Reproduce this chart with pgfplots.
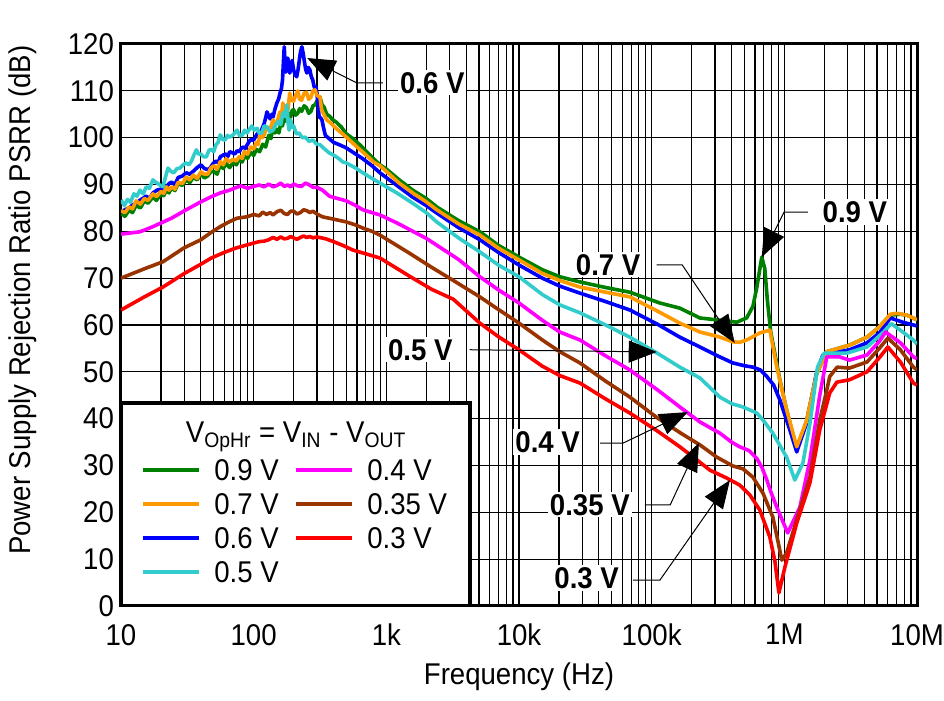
\documentclass[border=0pt]{standalone}
\usepackage{fontspec}
\setmainfont{Liberation Sans}[FakeStretch=0.92]
\usepackage{pgfplots}
\pgfplotsset{compat=1.18}
\usetikzlibrary{arrows.meta}
\definecolor{colG}{RGB}{0,128,0}
\definecolor{colO}{RGB}{255,153,0}
\definecolor{colB}{RGB}{0,0,255}
\definecolor{colC}{RGB}{51,204,204}
\definecolor{colM}{RGB}{255,0,255}
\definecolor{colBr}{RGB}{153,51,0}
\definecolor{colR}{RGB}{255,0,0}
\newcommand{\fs}{\fontsize{15}{18}\selectfont}
\begin{document}
\begin{tikzpicture}
\useasboundingbox (-60.5pt,-47.5pt) rectangle (411.5pt,303pt);
\begin{axis}[at={(0,0)}, anchor=south west, scale only axis,
  width=398pt, height=281pt,
  xmode=log, xmin=10, xmax=1e7, ymin=0, ymax=120,
  ytick={0,10,...,120},
  xtick={10,100,1000,10000,100000,1000000,10000000},
  xticklabels={10,100,1k,10k,100k,1M,10M},
  grid=both,
  grid style={black, line width=0.6pt},
  major grid style={black, line width=0.6pt},
  minor grid style={black, line width=0.6pt},
  major tick length=0pt, minor tick length=0pt,
  axis line style={line width=1.5pt},
  /pgf/number format/assume math mode=true,
  tick label style={font=\fs},
  xticklabel style={yshift=-5.5pt},
  label style={font=\fs},
  xlabel={Frequency (Hz)},
  ylabel={Power Supply Rejection Ratio PSRR (dB)},
  xlabel style={at={(rel axis cs:0.5,-0.125)}, anchor=center},
  ylabel style={at={(rel axis cs:-0.124,0.544)}, anchor=center},
  every axis plot/.append style={line width=1.8pt, line join=round},
]
% 0.9 V
\addplot[colG] coordinates {
(10,83.9)(10.7,83.2)(11.5,84.5)(12.2,84)(13,85.5)(14,85)(15,86.5)(16,86)(17.4,87.3)(18.5,86.6)(20,88)(21,87.6)(22,88.8)(23,88.2)(24,89.3)(25.5,88.7)(27,90.2)(29,89.8)(31,91)(33,90.4)(35,91.5)(37.5,91)(40,92.3)(42.5,91.4)(45,91.8)(47.5,92.7)(50,92.8)(53,92.2)(56,94.2)(59,93.4)(62,94.5)(66,93.6)(70,94.8)(74,94.2)(78,95.4)(82,94.8)(85,96)(90,95.6)(95,96.9)(100,96.2)(105,97.5)(111,97)(117,98.6)(123,98)(130,100.5)(135,99.8)(140,102.3)(145,101)(150,101.8)(155,101)(160,103.1)(165,102.5)(170,104.5)(175,103.5)(180,105.5)(185,104.5)(190,104.4)(195,105.8)(200,106)(207,104.8)(215,105.2)(222,106.2)(230,105.6)(240,106.8)(250,106.4)(260,105.2)(270,105.6)(280,106.8)(290,107)(300,107.8)(316,108.7)(328,107)(340,106.5)(355,105)(373,104.6)(395,103.8)(420,103.3)(460,102.2)(500,100.8)(560,99.8)(630,98.5)(710,97)(800,95.5)(895,94.2)(1000,93.3)(1250,91)(1580,88.8)(2000,87)(2400,85.2)(3500,82.3)(5070,79.9)(7000,77)(10000,74.5)(15000,71.8)(20300,70.3)(28800,69.2)(45000,68)(68500,67)(115000,64.7)(163000,63.6)(231000,61.5)(309000,61.1)(438000,60.6)(520000,61.5)(580000,64)(621000,68.1)(676000,74.5)(713000,72)(745000,65.3)(790000,58.5)(925000,48.3)(1040000,41.9)(1240000,33.5)(1470000,39.5)(1750000,49.5)(2090000,54.3)(3100000,55.7)(4200000,57.4)(5200000,59.6)(6300000,62.1)(7500000,62.3)(8400000,62.1)(10000000,61.1)};
% 0.6 V
\addplot[colB] coordinates {
(10,84.1)(10.7,84.6)(11.5,85)(12.2,85.6)(13,86)(14,86.7)(15.5,87.5)(16.4,87)(17.4,88.2)(18.7,88.8)(20,89)(21,88.6)(22,89.5)(23,90.2)(24,90.5)(25.5,90)(27,91.5)(29,91.8)(31,92.5)(33,92.2)(35,92.8)(37.5,93.6)(40,94.2)(42.5,93.4)(45,93.2)(47,93.5)(49.5,94.5)(52,95)(54,94.6)(56,95.9)(59,96.3)(62,96.5)(64,96)(66,97)(69,96.8)(72,96.5)(75,97.2)(78,97)(81,97.8)(84,98)(86.5,97.7)(89,98.4)(94,99.5)(100,99.5)(106,100.8)(112,101)(116,102)(120,103)(123,104.2)(126,105.5)(130,104.6)(133,104)(137,105)(140,104.4)(145,106.2)(150,107.5)(154,108.2)(158,109.5)(162,110.5)(165,112.3)(167.5,116)(170,119.4)(172.5,116)(175,114)(178,115.5)(181,117)(184,115)(187,113.8)(191,114.8)(195,116.5)(200,114.5)(205,113.5)(211,113)(216,114.5)(222,117)(226,118.5)(231,119.4)(236,118)(242,116)(247,114.5)(252,113.8)(258,115)(265,114.5)(272,113)(279,112.3)(285,111)(290,110.5)(295,110.8)(300,109.5)(306,106.5)(312,104.4)(320,104.2)(327,103.8)(337,102)(347,100.5)(370,99.8)(400,99)(450,98.4)(500,97.8)(580,96.6)(665,95.5)(780,94)(895,92.5)(1200,89.8)(1580,87.3)(2000,85.5)(2400,83.9)(3500,80.8)(5070,78.2)(7000,75.5)(10000,72.8)(15000,70)(20300,68.3)(28800,66.8)(45000,65)(68500,63.2)(110000,60.2)(163000,57.4)(231000,55.3)(320000,53.3)(409000,51.9)(500000,51.3)(580000,51)(660000,50.4)(738000,49)(830000,47.2)(925000,44)(1100000,37.6)(1240000,32.9)(1470000,39)(1750000,49.8)(1950000,53.6)(3100000,54.7)(4200000,56.2)(5200000,58.3)(6300000,61.5)(7800000,60.6)(9400000,60)(10000000,59.8)};
% 0.7 V
\addplot[colO] coordinates {
(10,84.4)(10.7,84)(11.5,85.2)(12.2,84.8)(13,86.5)(14,85.8)(15,87)(16,86.6)(17.4,88)(18.5,87.4)(20,88.5)(21,88.1)(22,89.5)(23,88.8)(24,89.5)(25.5,89)(27,90.5)(29,90.2)(31,91.6)(33,91)(35,92)(37.5,91.3)(40,92.7)(42.5,92.2)(45,92.2)(47.5,93.5)(50,94)(53,93.3)(56,94.9)(59,94.2)(62,95.5)(66,94.8)(70,95.4)(74,95)(78,96)(82,95.6)(85,97)(90,96.5)(95,98)(100,97.6)(105,99)(108,98.5)(112,101)(116,100)(120,100.6)(126,102.2)(133,101.8)(140,103.8)(145,103)(150,103.2)(154,104.5)(158,105.5)(162,104.6)(166,107.4)(170,106)(175,106.8)(181,105.8)(187,109.5)(193,108)(200,107.8)(207,109)(215,110)(222,108.2)(230,108)(240,109.5)(250,109.7)(260,108.2)(270,108.6)(280,110)(290,110.2)(300,109)(316,108.7)(325,106)(335,105.2)(345,104.5)(355,103.8)(375,103.3)(400,102.5)(450,101.2)(500,100.1)(560,98.8)(630,97.5)(710,96.2)(800,94.8)(895,94)(1000,92.8)(1250,90.3)(1580,88.2)(2000,86.3)(2400,84.6)(3500,81.6)(5070,79.2)(7000,76.4)(10000,73.9)(15000,71)(20300,69.5)(28800,68.1)(45000,67)(68500,66)(110000,63)(163000,60.4)(231000,58.5)(320000,57.5)(409000,56.4)(460000,56.3)(521000,56.8)(653000,58.3)(778000,58.9)(877000,51)(1040000,41.9)(1240000,34)(1470000,39.5)(1750000,49.5)(2090000,54.3)(3100000,55.7)(4200000,57.4)(5200000,59.6)(6300000,62.3)(7050000,62.5)(8400000,62.1)(10000000,61.1)};
% 0.5 V
\addplot[colC] coordinates {
(10,86.7)(10.6,85.5)(11.2,86.8)(11.8,86.2)(12.5,88)(13.2,87.5)(13.9,88.8)(14.7,88)(15.5,89.5)(16.4,89.2)(17.4,91)(18.2,90.5)(19,90.2)(19.8,89.8)(20.7,89.5)(21.6,91.5)(22.6,93.5)(23.8,92.8)(25,92.5)(26.4,93.4)(27.8,93.5)(29.4,94.2)(31,94.6)(32.5,94.2)(34,95)(35.5,96.3)(37,97.4)(38.5,96.5)(40,96.5)(42,95.9)(44,95.9)(46,97.3)(48,97.5)(50,97)(52,98.5)(54,99)(56,100.6)(58.5,99.6)(61,99.5)(63.5,100.5)(66,100.1)(70,100.6)(75,101.6)(78.5,100.4)(82,100.5)(85.5,101.6)(89,101)(93,101.8)(97,102.5)(101,101.6)(106,102)(110,101)(115,101)(120,102.5)(126,102.3)(133,101.2)(140,101.6)(147,102.8)(155,103.5)(160,102.8)(166,105.3)(172,104.5)(178,107)(182,103)(185,101.6)(190,103.8)(195,102.2)(200,102.5)(210,100.8)(220,101)(232,100)(245,100.1)(262,99.2)(280,99.5)(298,98.6)(316,98.5)(345,97.5)(373,96.7)(405,96.2)(440,95.5)(470,94.8)(500,94.6)(580,93.6)(665,92.5)(780,91.3)(895,90.3)(1200,88.2)(1580,86)(2000,84)(2400,82)(3500,78.6)(5070,75.6)(7000,72.8)(10000,70.3)(15000,66.5)(20300,64.3)(28800,62.6)(45000,60)(68500,57.4)(110000,54)(163000,51)(231000,48.7)(327000,44.6)(400000,43.2)(487000,42.5)(621000,41.2)(700000,39.5)(819000,36.9)(1040000,31.8)(1200000,26.9)(1380000,30.5)(1560000,39)(1780000,51)(2000000,54)(2960000,54)(4200000,55.3)(5600000,58.5)(6400000,60.3)(7800000,58.5)(9400000,56.8)(10000000,55.9)};
% 0.4 V
\addplot[colM] coordinates {
(10,79.4)(13.9,79.9)(17.4,81)(24,82.8)(31,84.6)(40,86.3)(48,87.4)(56,88.2)(66,88.8)(73,89.3)(80,89.7)(90,89.2)(100,89.6)(110,89.9)(120,89.5)(130,90.1)(140,89.5)(150,89.8)(160,90.3)(170,89.6)(180,89.9)(190,89.5)(200,90.1)(215,89.7)(230,89.6)(245,90.3)(260,90)(280,89.4)(300,89.4)(330,88.8)(373,87.5)(430,87)(500,86.5)(580,85.6)(665,84.6)(780,84)(895,83.5)(1200,81.8)(2000,78.5)(3500,74)(5070,70.3)(7000,67.5)(10000,64.7)(15000,61)(20300,58.5)(28800,56.8)(45000,53.4)(68500,50.4)(110000,46.2)(163000,42.5)(231000,39.3)(327000,36.9)(400000,35)(460000,34)(540000,33.2)(621000,31.5)(680000,29.5)(738000,26.9)(800000,24)(877000,21.1)(1060000,15.6)(1310000,21.1)(1560000,31.2)(1850000,45)(2090000,53.2)(2600000,53.2)(3100000,52.5)(4200000,53.6)(5200000,56.5)(5800000,58.5)(7500000,56.2)(9400000,53.2)(10000000,52.8)};
% 0.35 V
\addplot[colBr] coordinates {
(10,70)(15,72)(20.7,73.5)(30,76.5)(40,78.2)(48,79.8)(56,81)(65,82)(75,82.8)(89,83.1)(100,83.6)(110,83.3)(117,84.1)(125,83.6)(133,84)(140,83.5)(150,84.2)(160,84.5)(170,83.8)(180,83.6)(190,84.3)(200,84.3)(212,83.7)(225,84)(238,84.6)(252,84.4)(265,84)(280,84.3)(300,83.7)(330,83.1)(400,82.6)(500,82)(580,81.4)(665,80.7)(780,80)(895,79.2)(1500,75.3)(2200,72.3)(3200,69.5)(5070,66)(7000,63.3)(10000,60.4)(15000,56.8)(20300,54.3)(28800,51.9)(45000,48)(68500,44.6)(110000,40.2)(168000,36.8)(231000,34.4)(309000,31.8)(409000,29.9)(487000,29.3)(580000,27.5)(690000,24.1)(819000,19)(900000,13.5)(957000,9.8)(1040000,11.3)(1240000,18.4)(1560000,27.5)(1850000,39.7)(2090000,46.1)(2200000,49)(2500000,51)(3100000,50.8)(4200000,52.1)(5200000,55)(6030000,57.2)(7500000,54.7)(9400000,51)(10000000,50.4)};
% 0.3 V
\addplot[colR] coordinates {
(10,63.2)(15,66)(20.7,68.1)(30,71)(39,72.8)(48,74.3)(60,75.5)(73,76.4)(89,77.1)(110,77.8)(120,77.9)(130,78.2)(140,78.7)(150,78.3)(160,78.8)(170,78.4)(180,78.5)(190,78.9)(200,78.6)(212,78.3)(225,78.7)(238,79)(250,78.7)(265,78.9)(280,78.6)(300,78.8)(350,78.4)(400,77.8)(470,77)(560,76)(700,75.2)(895,74.3)(1500,70.4)(2200,67.6)(3200,65.5)(5070,60.4)(7000,57.5)(10000,54.7)(15000,51.2)(20300,49.2)(28800,47.6)(45000,44.2)(68500,41.2)(110000,37.4)(163000,34)(219000,31.2)(275000,29)(369000,27.3)(462000,25.8)(550000,23.7)(653000,20.5)(778000,14.7)(850000,9.5)(910000,2.8)(1010000,8.3)(1240000,17.7)(1560000,26.3)(1850000,37.6)(2200000,45.5)(2490000,47.8)(3100000,48.3)(4200000,50)(5200000,53)(6030000,55.3)(7500000,52.1)(9400000,47.6)(10000000,47.2)};

% annotations
\tikzset{ann/.style={line width=0.5pt, -{Triangle[length=14pt,width=11pt]}},
  lab/.style={font=\bfseries\fs, fill=white, inner sep=1pt}}
\draw[ann] (rel axis cs:0.329,0.931) -- (rel axis cs:0.296,0.931) -- (rel axis cs:0.234,0.975);
\node[lab] at (rel axis cs:0.391,0.931) {0.6 V};
\draw[ann] (rel axis cs:0.863,0.701) -- (rel axis cs:0.833,0.701) -- (rel axis cs:0.805,0.621);
\node[lab] at (rel axis cs:0.922,0.701) {0.9 V};
\draw[ann] (rel axis cs:0.673,0.607) -- (rel axis cs:0.705,0.607) -- (rel axis cs:0.771,0.468);
\node[lab] at (rel axis cs:0.612,0.607) {0.7 V};
\draw[ann] (rel axis cs:0.438,0.456) -- (rel axis cs:0.673,0.452);
\node[lab] at (rel axis cs:0.376,0.456) {0.5 V};
\draw[ann] (rel axis cs:0.602,0.290) -- (rel axis cs:0.631,0.290) -- (rel axis cs:0.712,0.345);
\node[lab] at (rel axis cs:0.536,0.292) {0.4 V};
\draw[ann] (rel axis cs:0.658,0.180) -- (rel axis cs:0.690,0.180) -- (rel axis cs:0.726,0.290);
\node[lab] at (rel axis cs:0.589,0.180) {0.35 V};
\draw[ann] (rel axis cs:0.643,0.046) -- (rel axis cs:0.677,0.046) -- (rel axis cs:0.765,0.224);
\node[lab] at (rel axis cs:0.585,0.050) {0.3 V};

% legend
\fill[white] (rel axis cs:0,0) rectangle (rel axis cs:0.4385,0.361);
\draw[line width=2pt] (rel axis cs:0,0) rectangle (rel axis cs:0.4385,0.361);
\node[font=\fs] at (rel axis cs:0.220,0.301) {V\textsubscript{OpHr} = V\textsubscript{IN} - V\textsubscript{OUT}};
\draw[colG, line width=2pt] (rel axis cs:0.0276,0.242) -- (rel axis cs:0.098,0.242);
\node[font=\fs, anchor=west, inner sep=0pt] at (rel axis cs:0.1168,0.242) {0.9 V};
\draw[colO, line width=2pt] (rel axis cs:0.0276,0.1815) -- (rel axis cs:0.098,0.1815);
\node[font=\fs, anchor=west, inner sep=0pt] at (rel axis cs:0.1168,0.1815) {0.7 V};
\draw[colB, line width=2pt] (rel axis cs:0.0276,0.121) -- (rel axis cs:0.098,0.121);
\node[font=\fs, anchor=west, inner sep=0pt] at (rel axis cs:0.1168,0.121) {0.6 V};
\draw[colC, line width=2pt] (rel axis cs:0.0276,0.0605) -- (rel axis cs:0.098,0.0605);
\node[font=\fs, anchor=west, inner sep=0pt] at (rel axis cs:0.1168,0.0605) {0.5 V};
\draw[colM, line width=2pt] (rel axis cs:0.2199,0.242) -- (rel axis cs:0.2902,0.242);
\node[font=\fs, anchor=west, inner sep=0pt] at (rel axis cs:0.309,0.242) {0.4 V};
\draw[colBr, line width=2pt] (rel axis cs:0.2199,0.1815) -- (rel axis cs:0.2902,0.1815);
\node[font=\fs, anchor=west, inner sep=0pt] at (rel axis cs:0.309,0.1815) {0.35 V};
\draw[colR, line width=2pt] (rel axis cs:0.2199,0.121) -- (rel axis cs:0.2902,0.121);
\node[font=\fs, anchor=west, inner sep=0pt] at (rel axis cs:0.309,0.121) {0.3 V};
\end{axis}
\end{tikzpicture}
\end{document}
